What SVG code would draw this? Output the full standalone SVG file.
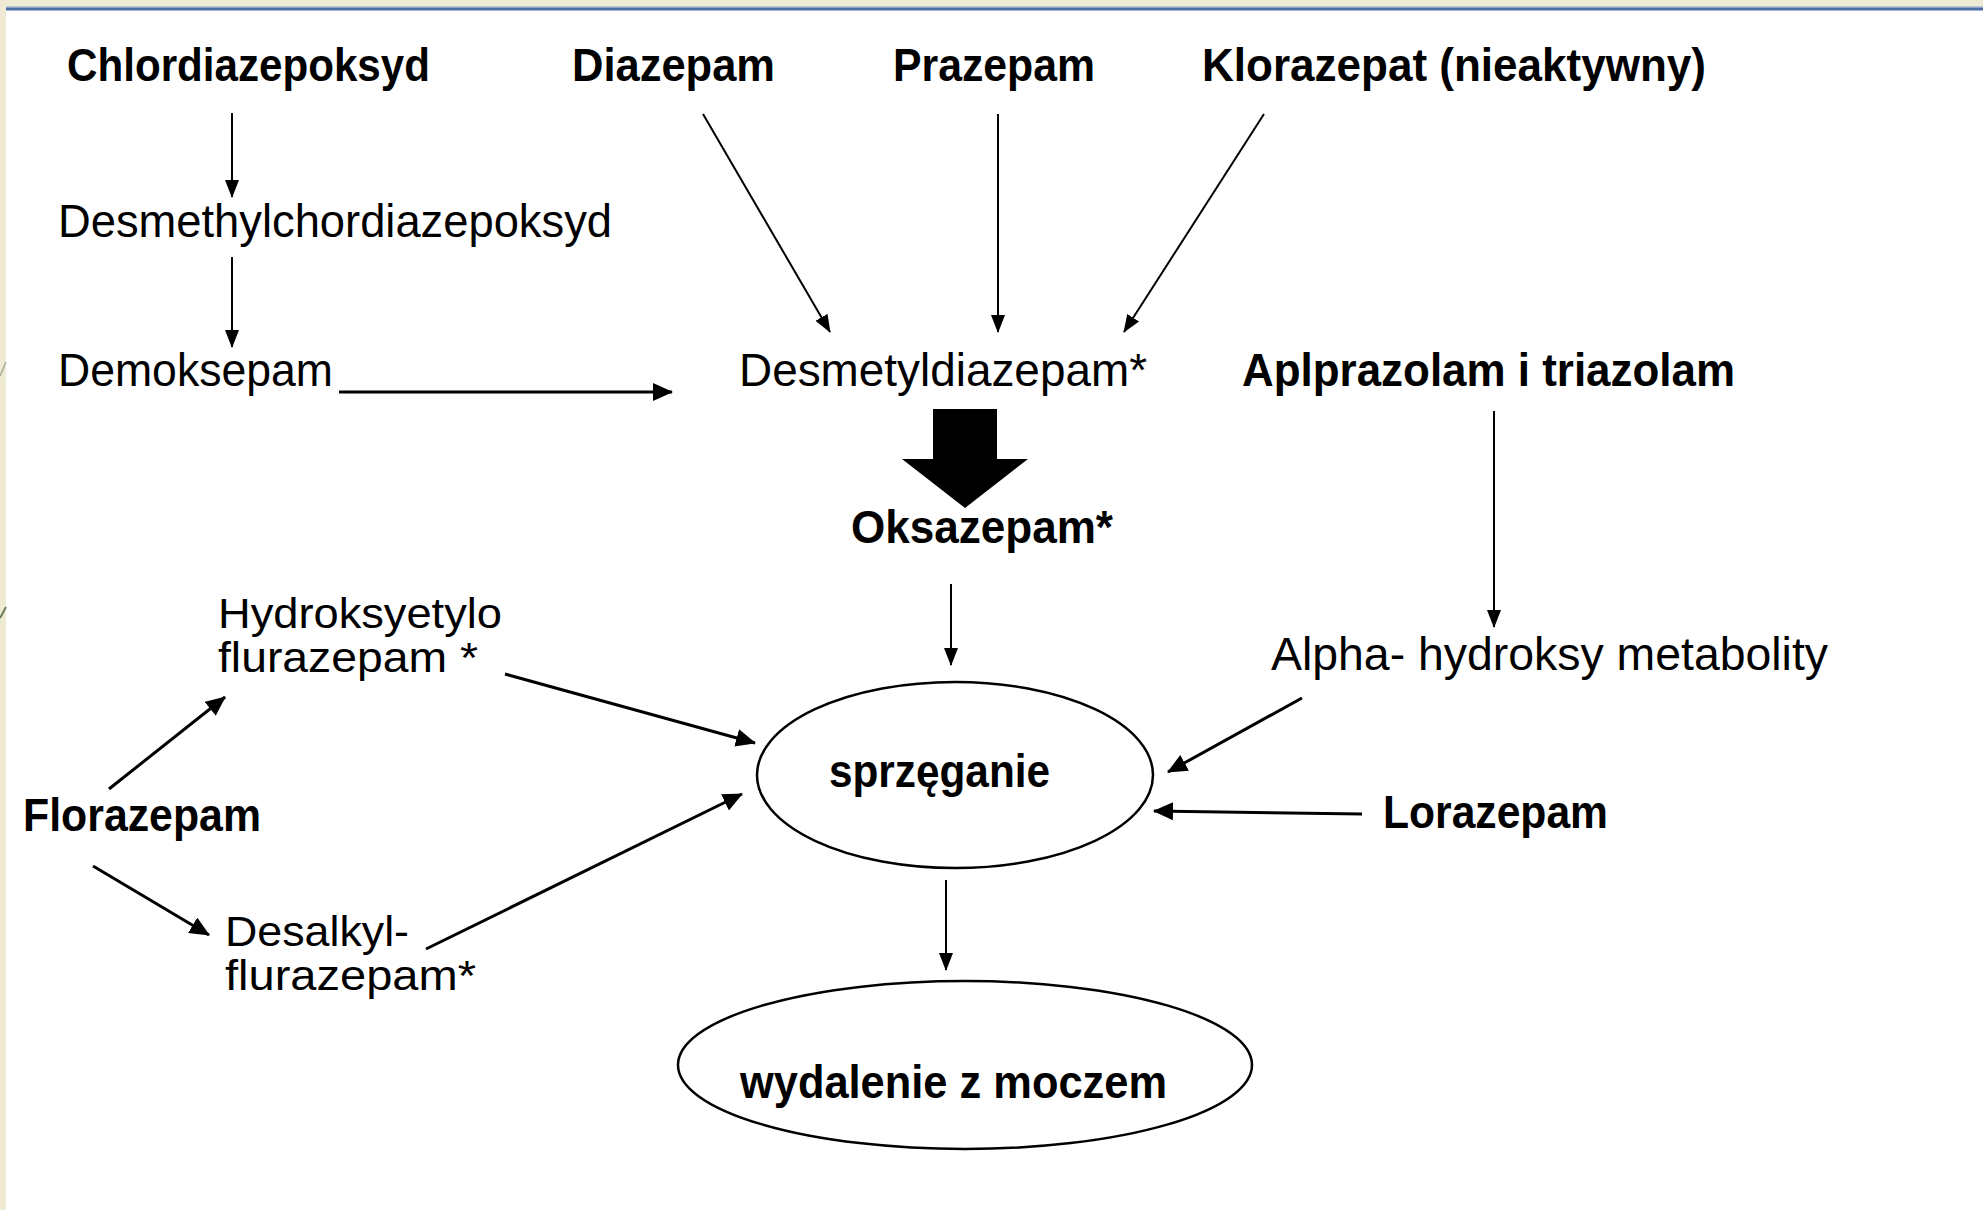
<svg xmlns="http://www.w3.org/2000/svg" width="1983" height="1210" viewBox="0 0 1983 1210">
<style>
text{font-family:"Liberation Sans",Arial,sans-serif;font-size:46px;fill:#000;}
.b{font-weight:bold;}
.m{font-size:42px;}
.ln{stroke:#000;stroke-width:2;fill:none;}
.lt{stroke:#000;stroke-width:3;fill:none;}
.el{stroke:#000;stroke-width:2.5;fill:#fff;}
</style>
<defs>
<marker id="ah" markerUnits="userSpaceOnUse" markerWidth="18" markerHeight="14" refX="17" refY="7" orient="auto">
<path d="M0,0 L18,7 L0,14 z" fill="#000"/>
</marker>
<marker id="ahb" markerUnits="userSpaceOnUse" markerWidth="20" markerHeight="18" refX="19" refY="9" orient="auto">
<path d="M0,0 L20,9 L0,18 z" fill="#000"/>
</marker>
</defs>
<rect x="0" y="0" width="1983" height="1210" fill="#EEEAD3"/>
<rect x="6" y="10" width="1977" height="1200" fill="#fff"/>
<rect x="6" y="6" width="1977" height="1.5" fill="#B9C7DE"/>
<rect x="6" y="7.5" width="1977" height="3" fill="#4E6EA6"/>
<line x1="0" y1="376" x2="6" y2="362" stroke="#A9AC98" stroke-width="1.5"/>
<line x1="0" y1="618" x2="6" y2="607" stroke="#6E7A5E" stroke-width="2"/>

<g id="connectors">
<line class="ln" x1="232" y1="113" x2="232" y2="197" marker-end="url(#ah)"/>
<line class="ln" x1="232" y1="257" x2="232" y2="347" marker-end="url(#ah)"/>
<line class="lt" x1="339" y1="392" x2="672" y2="392" marker-end="url(#ahb)"/>
<line class="ln" x1="703" y1="114" x2="830" y2="332" marker-end="url(#ah)"/>
<line class="ln" x1="998" y1="114" x2="998" y2="332" marker-end="url(#ah)"/>
<line class="ln" x1="1264" y1="114" x2="1124" y2="332" marker-end="url(#ah)"/>
<polygon points="933,409 997,409 997,459 1028,459 965,508 902,459 933,459" fill="#000"/>
<line class="ln" x1="951" y1="584" x2="951" y2="665" marker-end="url(#ah)"/>
<line class="ln" x1="1494" y1="411" x2="1494" y2="627" marker-end="url(#ah)"/>
<line class="lt" x1="1302" y1="698" x2="1168" y2="772" marker-end="url(#ahb)"/>
<line class="lt" x1="1362" y1="814" x2="1154" y2="811" marker-end="url(#ahb)"/>
<line class="ln" x1="946" y1="880" x2="946" y2="970" marker-end="url(#ah)"/>
<line class="lt" x1="109" y1="789" x2="225" y2="697" marker-end="url(#ahb)"/>
<line class="lt" x1="93" y1="866" x2="209" y2="935" marker-end="url(#ahb)"/>
<line class="lt" x1="505" y1="674" x2="755" y2="743" marker-end="url(#ahb)"/>
<line class="lt" x1="426" y1="949" x2="742" y2="794" marker-end="url(#ahb)"/>
</g>

<g id="n-chlordiazepoksyd"><text class="b" x="67" y="81" textLength="363" lengthAdjust="spacingAndGlyphs">Chlordiazepoksyd</text></g>
<g id="n-diazepam"><text class="b" x="572" y="81" textLength="203" lengthAdjust="spacingAndGlyphs">Diazepam</text></g>
<g id="n-prazepam"><text class="b" x="893" y="81" textLength="202" lengthAdjust="spacingAndGlyphs">Prazepam</text></g>
<g id="n-klorazepat"><text class="b" x="1202" y="81" textLength="504" lengthAdjust="spacingAndGlyphs">Klorazepat (nieaktywny)</text></g>
<g id="n-desmethylchlordiazepoksyd"><text x="58" y="237" textLength="554" lengthAdjust="spacingAndGlyphs">Desmethylchordiazepoksyd</text></g>
<g id="n-demoksepam"><text x="58" y="386" textLength="275" lengthAdjust="spacingAndGlyphs">Demoksepam</text></g>
<g id="n-desmetyldiazepam"><text x="739" y="386" textLength="408" lengthAdjust="spacingAndGlyphs">Desmetyldiazepam*</text></g>
<g id="n-aplprazolam"><text class="b" x="1242" y="386" textLength="493" lengthAdjust="spacingAndGlyphs">Aplprazolam i triazolam</text></g>
<g id="n-oksazepam"><text class="b" x="851" y="543" textLength="262" lengthAdjust="spacingAndGlyphs">Oksazepam*</text></g>
<g id="n-alpha"><text x="1271" y="670" textLength="557" lengthAdjust="spacingAndGlyphs">Alpha- hydroksy metabolity</text></g>
<g id="n-hydroksyetylo">
<text class="m" x="218" y="628" textLength="284" lengthAdjust="spacingAndGlyphs">Hydroksyetylo</text>
<text class="m" x="218" y="672" textLength="260" lengthAdjust="spacingAndGlyphs">flurazepam *</text>
</g>
<g id="n-florazepam"><text class="b" x="23" y="831" textLength="238" lengthAdjust="spacingAndGlyphs">Florazepam</text></g>
<g id="n-desalkyl">
<text class="m" x="225" y="946" textLength="184" lengthAdjust="spacingAndGlyphs">Desalkyl-</text>
<text class="m" x="225" y="990" textLength="251" lengthAdjust="spacingAndGlyphs">flurazepam*</text>
</g>
<g id="n-sprzeganie">
<ellipse class="el" cx="955" cy="775" rx="198" ry="93"/>
<text class="b" x="829" y="787" textLength="221" lengthAdjust="spacingAndGlyphs">sprzęganie</text>
</g>
<g id="n-lorazepam"><text class="b" x="1383" y="828" textLength="225" lengthAdjust="spacingAndGlyphs">Lorazepam</text></g>
<g id="n-wydalenie">
<ellipse class="el" cx="965" cy="1065" rx="287" ry="84"/>
<text class="b" x="740" y="1098" textLength="427" lengthAdjust="spacingAndGlyphs">wydalenie z moczem</text>
</g>
</svg>
